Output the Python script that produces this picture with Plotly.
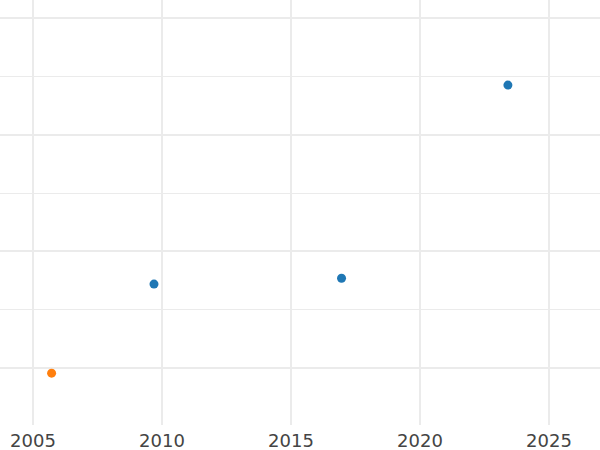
import plotly.graph_objects as go

# data
blue_years = [2009.69, 2016.96, 2023.41]
blue_values = [0.72, 0.77, 2.425]
orange_years = [2005.72]
orange_values = [-0.043]
x_ticks = [2005, 2010, 2015, 2020, 2025]

fig = go.Figure()
fig.add_trace(go.Scatter(x=blue_years, y=blue_values, mode="markers",
                         marker=dict(color="#1f77b4", size=9), showlegend=False))
fig.add_trace(go.Scatter(x=orange_years, y=orange_values, mode="markers",
                         marker=dict(color="#ff7f0e", size=9), showlegend=False))

fig.update_layout(
    width=600, height=450,
    margin=dict(l=0, r=0, t=0, b=25),
    paper_bgcolor="white", plot_bgcolor="white",
    font=dict(family="DejaVu Sans", size=18, color="#444"),
)
fig.update_xaxes(range=[2003.72, 2026.98], tickvals=x_ticks,
                 ticktext=[str(t) for t in x_ticks],
                 showgrid=True, gridcolor="#ebebeb", gridwidth=2,
                 zeroline=False, showline=False, ticks="",
                 ticklabelstandoff=3)
fig.update_yaxes(range=[-0.487, 3.154], dtick=1, showticklabels=False,
                 showgrid=True, gridcolor="#ebebeb", gridwidth=2,
                 zeroline=False, showline=False, ticks="",
                 minor=dict(dtick=0.5, showgrid=True, gridcolor="#ebebeb", gridwidth=1))

fig.write_html("out.html", config={"displayModeBar": False},
               post_script="document.body.style.margin='0px';")
